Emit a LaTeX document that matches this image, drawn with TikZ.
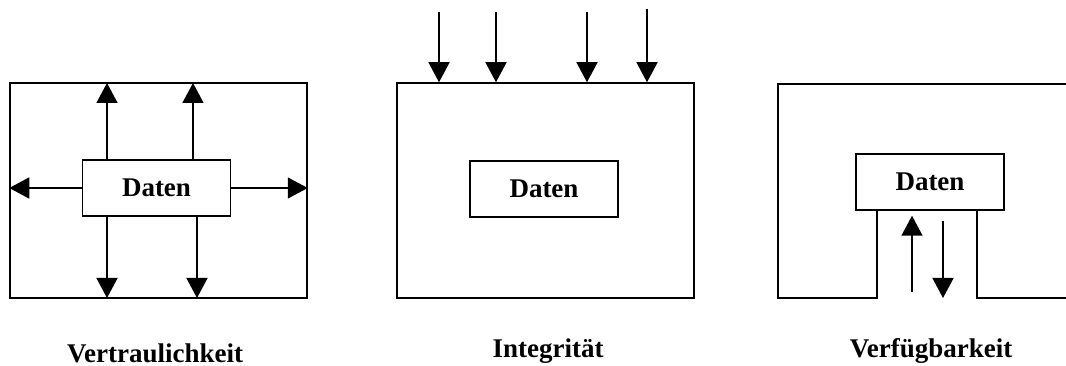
\documentclass[tikz,border=0pt]{standalone}
\usepackage{fontspec}
\setmainfont{Liberation Serif}
\usetikzlibrary{
  arrows.meta
  , calc
}

\begin{document}
\begin{tikzpicture}[
    x=1pt, y=-1pt
    , line width=1.5pt
  ]
  \tikzstyle{frame box}=[draw=black, minimum width=297pt, minimum height=215pt, inner sep=0pt];
  \tikzstyle{data box}=[draw=black, minimum width=148pt, minimum height=56pt, inner sep=0pt, font=\bfseries\fontsize{27}{30}\selectfont];
  \tikzstyle{data arrow}=[-{Triangle[length=20pt,width=21pt]}];
  \tikzstyle{caption}=[anchor=base, inner sep=0pt, font=\bfseries\fontsize{27}{30}\selectfont];

  \useasboundingbox (0,0) rectangle (1066,366);

  % Vertraulichkeit
  \node [frame box] (conf) at (158.5,190.5) {};
  \node [data box] (conf_data) at (156.5,188) {Daten};
  \coordinate (conf_up1) at (107,83);
  \coordinate (conf_up2) at (193,83);
  \coordinate (conf_down1) at (107,298);
  \coordinate (conf_down2) at (197,298);
  \draw [data arrow] (conf_up1 |- conf_data.north) -- (conf_up1);
  \draw [data arrow] (conf_up2 |- conf_data.north) -- (conf_up2);
  \draw [data arrow] (conf_down1 |- conf_data.south) -- (conf_down1);
  \draw [data arrow] (conf_down2 |- conf_data.south) -- (conf_down2);
  \draw [data arrow] (conf_data.west) -- (conf_data.west -| conf.west);
  \draw [data arrow] (conf_data.east) -- (conf_data.east -| conf.east);
  \node [caption] (conf_label) at (155,362) {Vertraulichkeit};

  % Integritaet
  \node [frame box] (integ) at (545.5,190.5) {};
  \node [data box] (integ_data) at (544,189) {Daten};
  \foreach \x/\y [count=\i] in {439/12, 496/12, 587/12, 647/9} {
    \coordinate (integ_in\i) at (\x,\y);
    \draw [data arrow] (integ_in\i) -- (integ_in\i |- integ.north);
  }
  \node [caption] (integ_label) at (548,357) {Integrität};

  % Verfuegbarkeit
  \node [data box] (avail_data) at (930,182) {Daten};
  \coordinate (avail_nw) at (778,84);
  \coordinate (avail_ne) at (1066,84);
  \coordinate (avail_sw) at (778,298);
  \coordinate (avail_se) at (1066,298);
  \coordinate (gap_l) at (877,298);
  \coordinate (gap_r) at (977,298);
  \draw (avail_ne) -- (avail_nw) -- (avail_sw) -- (gap_l) -- (gap_l |- avail_data.south);
  \draw (gap_r |- avail_data.south) -- (gap_r) -- (avail_se);
  \coordinate (avail_in) at (912,292);
  \coordinate (avail_out) at (943,298);
  \draw [data arrow] (avail_in) -- ($ (avail_in |- avail_data.south) + (0,5) $);
  \draw [data arrow] ($ (avail_out |- avail_data.south) + (0,10) $) -- (avail_out);
  \node [caption] (avail_label) at (931,357) {Verfügbarkeit};

\end{tikzpicture}
\end{document}
